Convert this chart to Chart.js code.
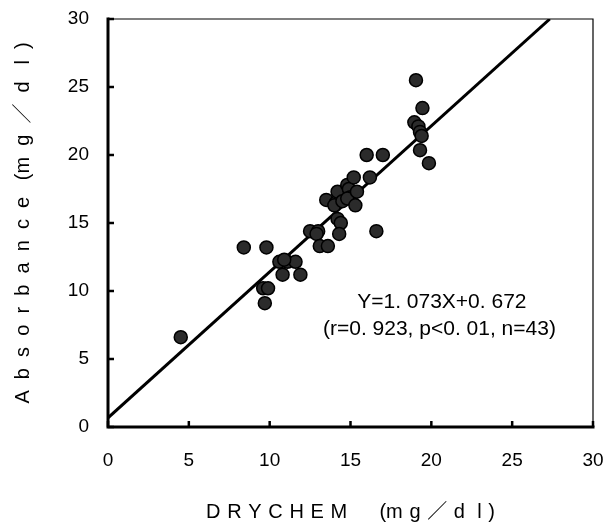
<!DOCTYPE html>
<html>
<head>
<meta charset="utf-8">
<script src="https://cdn.jsdelivr.net/npm/chart.js@4/dist/chart.umd.min.js"></script>
<style>
  html, body { margin: 0; padding: 0; background: #fff; }
  #wrap { width: 607px; height: 524px; }
</style>
</head>
<body>
<div id="wrap"><canvas id="drychem-scatter"></canvas></div>
<script>
// values
var drychem = [4.5, 8.4, 9.8, 9.6, 9.9, 9.7, 10.6, 11.1, 11.6, 10.8, 11.9, 10.9,
  12.5, 13.0, 12.9, 13.1, 13.6, 14.2, 14.4, 14.3, 13.5, 14.1, 14.0, 14.2, 14.5,
  14.8, 14.9, 15.0, 15.2, 14.8, 15.3, 15.4, 16.2, 16.0, 17.0, 16.6,
  19.05, 19.45, 18.95, 19.2, 19.3, 19.4, 19.3, 19.85];
var absorbance = [6.6, 13.2, 13.2, 10.2, 10.2, 9.1, 12.15, 12.15, 12.15, 11.2, 11.2, 12.3,
  14.4, 14.4, 14.2, 13.3, 13.3, 15.3, 15.0, 14.2, 16.7, 16.5, 16.3, 17.3, 16.6,
  17.8, 17.5, 16.9, 18.35, 16.8, 16.3, 17.3, 18.35, 20.0, 20.0, 14.4,
  25.5, 23.45, 22.4, 22.1, 21.7, 21.4, 20.35, 19.4];
var fitX = [0, 27.33];
var fitY = [0.672, 30];
var tickValues = [0, 5, 10, 15, 20, 25, 30];
var equation = ['Y=1. 073X+0. 672', '(r=0. 923, p<0. 01, n=43)'];

var points = drychem.map(function (x, i) { return { x: x, y: absorbance[i] }; });
var fitLine = fitX.map(function (x, i) { return { x: x, y: fitY[i] }; });

var tickFont = { family: "'Liberation Sans Narrow', 'Liberation Sans', Arial, sans-serif", size: 19 };
var titleFont = { family: "'Liberation Sans', 'Noto Sans CJK JP', sans-serif", size: 20 };

// frame, inward tick marks and the regression text
var framePlugin = {
  id: 'frame',
  afterDatasetsDraw: function (chart) {
    var ctx = chart.ctx;
    var xs = chart.scales.x, ys = chart.scales.y;
    var a = chart.chartArea;
    ctx.save();
    ctx.strokeStyle = '#000';
    ctx.lineCap = 'square';
    ctx.lineWidth = 1.2;
    ctx.beginPath();
    ctx.moveTo(a.left, a.top); ctx.lineTo(a.right, a.top); ctx.lineTo(a.right, a.bottom);
    ctx.stroke();
    ctx.lineWidth = 3;
    ctx.beginPath();
    ctx.moveTo(a.left, a.top); ctx.lineTo(a.left, a.bottom); ctx.lineTo(a.right, a.bottom);
    ctx.stroke();
    ctx.lineWidth = 2.5;
    ctx.lineCap = 'butt';
    tickValues.forEach(function (v) {
      var px = xs.getPixelForValue(v), py = ys.getPixelForValue(v);
      ctx.beginPath(); ctx.moveTo(px, a.bottom); ctx.lineTo(px, a.bottom - 6); ctx.stroke();
      ctx.beginPath(); ctx.moveTo(a.left, py); ctx.lineTo(a.left + 6, py); ctx.stroke();
    });
    ctx.fillStyle = '#000';
    ctx.font = "21px 'Liberation Sans Narrow', 'Liberation Sans', Arial, sans-serif";
    ctx.textAlign = 'center';
    ctx.textBaseline = 'middle';
    ctx.fillText(equation[0], xs.getPixelForValue(20.65), ys.getPixelForValue(9.2));
    ctx.fillText(equation[1], xs.getPixelForValue(20.5), ys.getPixelForValue(7.2));
    ctx.restore();
  }
};

var chart = new Chart(document.getElementById('drychem-scatter'), {
  type: 'scatter',
  data: {
    datasets: [{
      label: 'samples',
      data: points,
      backgroundColor: '#2b2b2b',
      borderColor: '#000',
      borderWidth: 1.5,
      pointRadius: 6.5,
      pointHoverRadius: 6.5
    }, {
      type: 'line',
      label: 'fit',
      data: fitLine,
      borderColor: '#000',
      borderWidth: 3,
      pointRadius: 0,
      fill: false
    }]
  },
  options: {
    responsive: true,
    maintainAspectRatio: false,
    animation: false,
    layout: { padding: { left: 11, right: 14, top: 19, bottom: 0 } },
    plugins: {
      legend: { display: false },
      tooltip: { enabled: false }
    },
    scales: {
      x: {
        type: 'linear',
        min: 0,
        max: 30,
        afterBuildTicks: function (scale) {
          scale.ticks = tickValues.map(function (v) { return { value: v }; });
        },
        afterFit: function (scale) { scale.height = 97; },
        grid: { display: false, drawTicks: true, tickLength: 22 },
        border: { display: false },
        ticks: { color: '#000', font: tickFont, padding: 0, maxRotation: 0 },
        title: {
          display: true,
          text: 'D\u2004R\u2004Y\u2004C\u2004H\u2004E\u2004M\u2003\u2004 (m\u2004g\u2004／\u2004d\u2004 l\u2004)',
          color: '#000',
          font: titleFont,
          padding: { top: 0, bottom: 0 }
        }
      },
      y: {
        type: 'linear',
        min: 0,
        max: 30,
        afterBuildTicks: function (scale) {
          scale.ticks = tickValues.map(function (v) { return { value: v }; });
        },
        afterFit: function (scale) { scale.width = 97; },
        grid: { display: false, drawTicks: true, tickLength: 19 },
        border: { display: false },
        ticks: { color: '#000', font: tickFont, padding: 0 },
        title: {
          display: true,
          text: 'A  b  s  o  r  b  a  n  c  e   (m  g  ／  d   l  )',
          color: '#000',
          font: titleFont,
          padding: { top: 0, bottom: 0 }
        }
      }
    }
  },
  plugins: [framePlugin]
});
</script>
</body>
</html>
